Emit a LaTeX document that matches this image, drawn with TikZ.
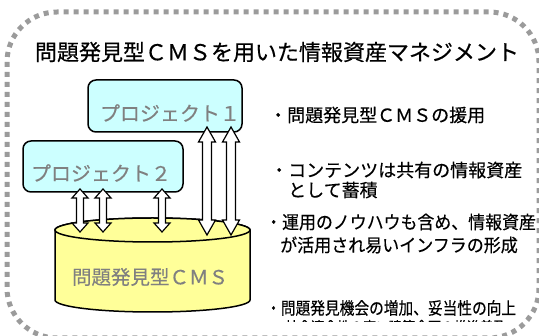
\documentclass[tikz,border=0pt]{standalone}
\usepackage{fontspec}
\newfontfamily\jp[FakeBold=0.4]{Noto Sans CJK JP}
\definecolor{framegray}{RGB}{155,155,155}
\definecolor{projfill}{RGB}{204,255,255}
\definecolor{cmsfill}{RGB}{255,255,153}
\definecolor{lblgray}{RGB}{128,128,128}
\newcommand\vdblarrow[6]{%
  \draw[blockarrow] (#1,#2) -- (#1+#5,#2-#6) -- (#1+#4,#2-#6) -- (#1+#4,#3+#6) -- (#1+#5,#3+#6)
    -- (#1,#3) -- (#1-#5,#3+#6) -- (#1-#4,#3+#6) -- (#1-#4,#2-#6) -- (#1-#5,#2-#6) -- cycle;}
\begin{document}
\begin{tikzpicture}[x=1pt,y=1pt,
  frame/.style={draw=framegray, line width=5pt, dash pattern=on 5pt off 5pt, rounded corners=50pt},
  projbox/.style={draw=black, line width=1.5pt, fill=projfill, rounded corners=8pt, inner sep=0pt},
  lbl/.style={text=lblgray, font=\jp\fontsize{20}{24}\selectfont, inner sep=0pt},
  bullet/.style={anchor=west, inner sep=0pt, font=\jp\fontsize{18}{22}\selectfont},
  blockarrow/.style={draw=black, line width=1.2pt, fill=white, line join=miter}
]
\useasboundingbox (0,0) rectangle (539,-336);
\begin{scope}
  \clip (0,0) rectangle (539,-336);
  \draw[frame] (7,-12) rectangle (539,-338);
\end{scope}

\node[inner sep=0pt, font=\jp\fontsize{22}{26}\selectfont] (title) at (277,-52) {問題発見型ＣＭＳを用いた情報資産マネジメント};

% bullets
\node[bullet] (b1) at (269,-115) {・問題発見型ＣＭＳの援用};
\node[bullet] (b2) at (270,-170) {・コンテンツは共有の情報資産};
\node[bullet] (b3) at (288,-190) {として蓄積};
\node[bullet] (b4) at (265,-222) {\scalebox{0.94}[1]{・運用のノウハウも含め、情報資産}};
\node[bullet] (b5) at (280,-245) {\scalebox{0.945}[1]{が活用され易いインフラの形成}};
\node[bullet, font=\jp\fontsize{17}{20}\selectfont] (b6) at (266,-308) {\scalebox{0.865}[1]{・問題発見機会の増加、妥当性の向上}};
\begin{scope}
  \clip (270,-300) rectangle (539,-322);
  \node[bullet, font=\jp\fontsize{13}{16}\selectfont] (b7) at (285,-326) {社会適合性の高い建築企画の推進普及};
\end{scope}

% project boxes
\node[projbox, minimum width=154pt, minimum height=52pt] (p1) at (165,-106) {};
\node[lbl] (p1t) at (170,-113) {プロジェクト１};
\node[projbox, minimum width=160pt, minimum height=51pt] (p2) at (103,-166.5) {};
\node[lbl] (p2t) at (101,-173) {プロジェクト２};

% cylinder
\path[draw=black, line width=1.5pt, fill=cmsfill]
  (55,-230) -- (55,-300) arc[start angle=180, end angle=360, x radius=97.5, y radius=12]
  -- (250,-230) arc[start angle=0, end angle=180, x radius=97.5, y radius=12] -- cycle;
\draw[line width=1.5pt, fill=cmsfill] (152.5,-230) ellipse[x radius=97.5, y radius=12];
\node[lbl, font=\jp\fontsize{19.5}{24}\selectfont] (cms) at (150,-277) {問題発見型ＣＭＳ};

% arrows
\vdblarrow{80}{-189}{-232}{3.5}{8}{9}
\vdblarrow{103}{-189}{-232}{3.5}{8}{9}
\vdblarrow{162}{-189}{-232}{3.5}{8}{9}
\vdblarrow{207}{-127}{-235}{4.5}{8.5}{15}
\vdblarrow{231}{-127}{-235}{4.5}{8.5}{15}
\end{tikzpicture}
\end{document}
